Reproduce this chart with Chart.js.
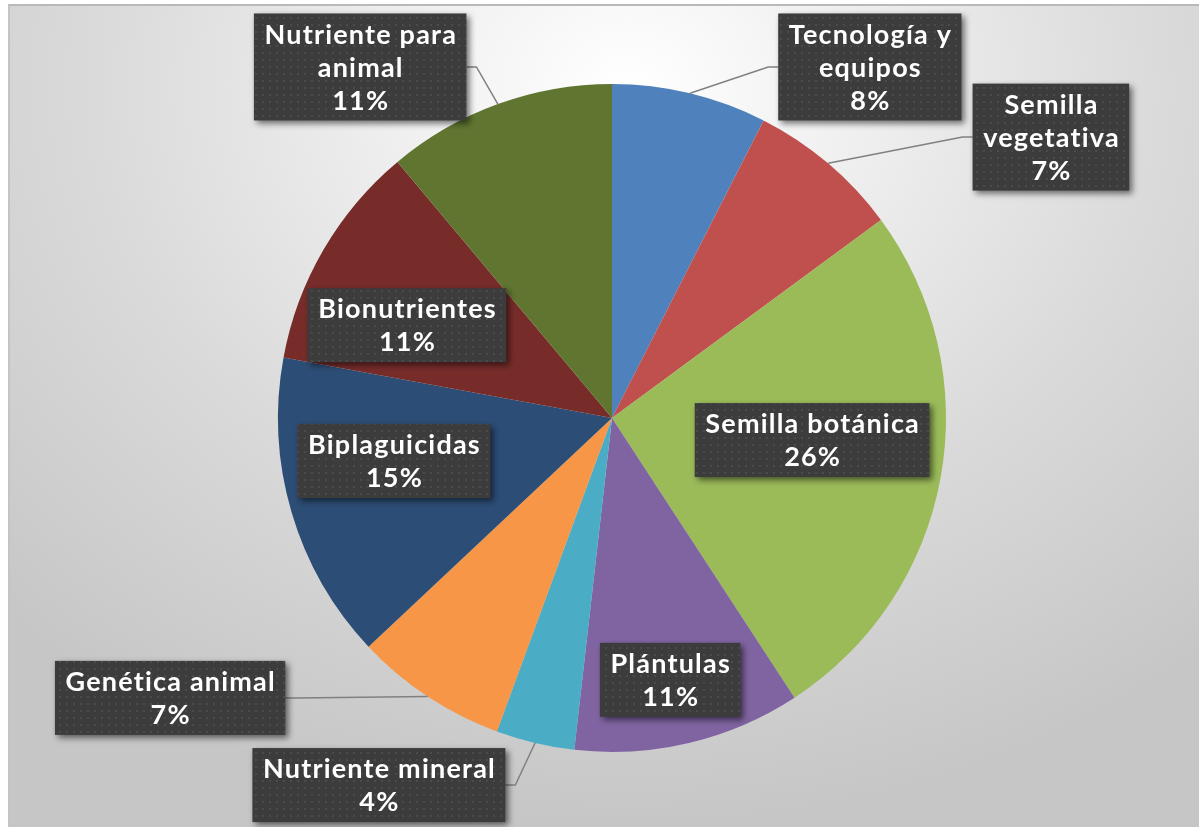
<!DOCTYPE html>
<html>
<head>
<meta charset="utf-8">
<script src="https://cdn.jsdelivr.net/npm/chart.js@4"></script>
<style>
  html, body { margin: 0; padding: 0; background: #fff; }
  #frame {
    position: absolute; left: 8px; top: 4px; width: 1191px; height: 823px;
    border-top: 2px solid #b9b9b9; border-left: 2px solid #c4c4c4;
    box-sizing: border-box;
    background: radial-gradient(ellipse 75% 90% at 52% 10%, #ffffff 0%, #f0f0f0 25%, #dadada 60%, #c6c6c6 100%);
  }
  #wrap { position: absolute; left: 0; top: 0; width: 1199px; height: 827px; }
</style>
</head>
<body>
<div id="frame"></div>
<div id="wrap"><canvas id="pie_Chart" width="1199" height="827"></canvas></div>
<script>
// categories (each entry split in the lines shown on the label)
var categories = [
    ['Tecnología y', 'equipos'],
    ['Semilla', 'vegetativa'],
    ['Semilla botánica'],
    ['Plántulas'],
    ['Nutriente mineral'],
    ['Genética animal'],
    ['Biplaguicidas'],
    ['Bionutrientes'],
    ['Nutriente para', 'animal']
];
var shares = [7.5, 7.4, 25.9, 11.0, 3.8, 7.4, 14.9, 11.0, 11.1];
var sliceColors = ['#4F81BD', '#C0504D', '#9BBB59', '#8064A2', '#4BACC6', '#F79646', '#2C4D75', '#772C2A', '#5F7530'];

// where each label box sits, in units of the pie radius from its centre
var labelOffsets = [
    [0.772, -1.051], [1.314, -0.841], [0.599, 0.066], [0.174, 0.784], [-0.698, 1.099],
    [-1.323, 0.838], [-0.653, 0.129], [-0.614, -0.278], [-0.754, -1.051]
];

var ctx = document.getElementById('pie_Chart');

function makePattern(c) {
    var tile = document.createElement('canvas');
    tile.width = 7; tile.height = 7;
    var t = tile.getContext('2d');
    t.fillStyle = '#3c3c3c';
    t.fillRect(0, 0, 7, 7);
    t.fillStyle = '#4b4b4b';
    t.fillRect(3, 3, 2, 2);
    return c.createPattern(tile, 'repeat');
}

const boxLabels = {
    id: 'boxLabels',
    afterDatasetsDraw(chart) {
        var c = chart.ctx;
        var meta = chart.getDatasetMeta(0);
        var total = shares.reduce(function (a, b) { return a + b }, 0);
        var pattern = makePattern(c);
        var lineH = 33;
        c.save();
        c.font = 'bold 27px Lato';
        c.letterSpacing = '1.2px';
        meta.data.forEach(function (arc, i) {
            var p = arc.getProps(['x', 'y', 'startAngle', 'endAngle', 'outerRadius'], true);
            var r = p.outerRadius;
            var lines = categories[i].concat([Math.round(shares[i] / total * 100) + '%']);
            var w = 0;
            lines.forEach(function (l) { w = Math.max(w, c.measureText(l).width) });
            var bw = w + 20, bh = lines.length * lineH + 8;
            var cx = p.x + labelOffsets[i][0] * r;
            var cy = p.y + labelOffsets[i][1] * r;
            var left = cx - bw / 2, top = cy - bh / 2;

            // leader line for labels placed outside the pie
            var off = Math.hypot(labelOffsets[i][0], labelOffsets[i][1]);
            if (off > 1) {
                var mid = (p.startAngle + p.endAngle) / 2;
                var ex = p.x + Math.cos(mid) * r, ey = p.y + Math.sin(mid) * r;
                var side = ex > cx ? left + bw : left;
                var elbow = ex > cx ? side + 10 : side - 10;
                c.strokeStyle = '#808080';
                c.lineWidth = 1.5;
                c.beginPath();
                c.moveTo(ex, ey);
                c.lineTo(elbow, cy);
                c.lineTo(side, cy);
                c.stroke();
            }

            c.save();
            c.shadowColor = 'rgba(0,0,0,0.55)';
            c.shadowBlur = 6;
            c.shadowOffsetX = 3;
            c.shadowOffsetY = 3;
            c.fillStyle = pattern;
            c.fillRect(left, top, bw, bh);
            c.restore();

            c.fillStyle = '#ffffff';
            c.textAlign = 'center';
            c.textBaseline = 'middle';
            lines.forEach(function (l, k) {
                c.fillText(l, cx + 0.6, top + 4 + lineH * k + lineH / 2 + 1);
            });
        });
        c.restore();
    }
};

var myChart = new Chart(ctx, {
    type: 'pie',
    data: {
        labels: categories,
        datasets: [{
            data: shares,
            backgroundColor: sliceColors,
            borderWidth: 0
        }]
    },
    options: {
        responsive: false,
        animation: false,
        layout: { padding: { top: 84, bottom: 75, left: 278, right: 253 } },
        plugins: {
            legend: { display: false },
            tooltip: { enabled: false }
        }
    },
    plugins: [boxLabels]
});
</script>
</body>
</html>
